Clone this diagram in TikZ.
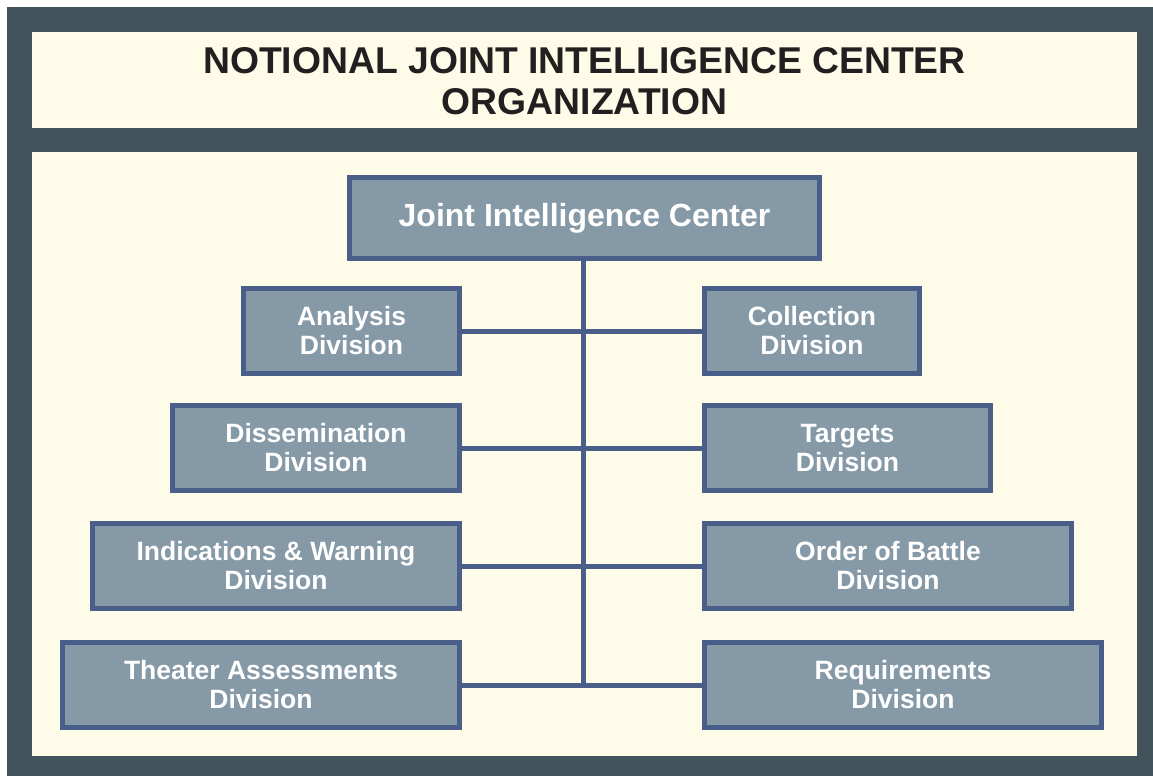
\documentclass[tikz,border=0pt]{standalone}
\usepackage{fontspec}
\setmainfont{Liberation Sans}
\definecolor{frame}{HTML}{43535B}
\definecolor{cream}{HTML}{FEFCE8}
\definecolor{boxfill}{HTML}{8599A6}
\definecolor{boxline}{HTML}{4A5E8A}
\definecolor{titletext}{HTML}{231F20}
\begin{document}
\begin{tikzpicture}[x=1pt,y=-1pt,
  orgbox/.style={draw=boxline, fill=boxfill, line width=5pt, inner sep=0pt,
    text=white, align=center, font=\bfseries\fontsize{26.5}{29}\selectfont,
    minimum height=85pt},
  link/.style={draw=boxline, line width=5pt}]
\useasboundingbox (0,0) rectangle (1153,776);
\fill[white] (0,0) rectangle (1153,776);
\fill[frame] (7,7) rectangle (1153,776);
\fill[cream] (32,32) rectangle (1137,128);
\fill[cream] (32,152) rectangle (1137,756);
\node[text=titletext, align=center, font=\bfseries\fontsize{37.3}{41}\selectfont] (title) at (584.5,81)
  {NOTIONAL JOINT INTELLIGENCE CENTER\\ORGANIZATION};
\node[orgbox, minimum width=470pt, minimum height=81pt, font=\bfseries\fontsize{32}{35}\selectfont] (jic) at (584.5,218) {Joint Intelligence Center};
\node[orgbox, minimum width=216pt] (ana) at (351.5,331) {Analysis\\Division};
\node[orgbox, minimum width=215pt] (col) at (812,331) {Collection\\Division};
\node[orgbox, minimum width=287pt] (dis) at (316,448) {Dissemination\\Division};
\node[orgbox, minimum width=286pt] (tar) at (847.5,448) {Targets\\Division};
\node[orgbox, minimum width=367pt] (ind) at (276,566) {Indications \& Warning\\Division};
\node[orgbox, minimum width=367pt] (oob) at (888,566) {Order of Battle\\Division};
\node[orgbox, minimum width=397pt] (the) at (261,685) {Theater Assessments\\Division};
\node[orgbox, minimum width=397pt] (req) at (903,685) {Requirements\\Division};
\coordinate (vtop) at (583,260);
\coordinate (vbot) at (583,685);
\draw[link] (vtop) -- (vbot);
\draw[link] (ana.east) -- (col.west);
\draw[link] (dis.east) -- (tar.west);
\draw[link] (ind.east) -- (oob.west);
\draw[link] (the.east) -- (req.west);
\end{tikzpicture}
\end{document}
